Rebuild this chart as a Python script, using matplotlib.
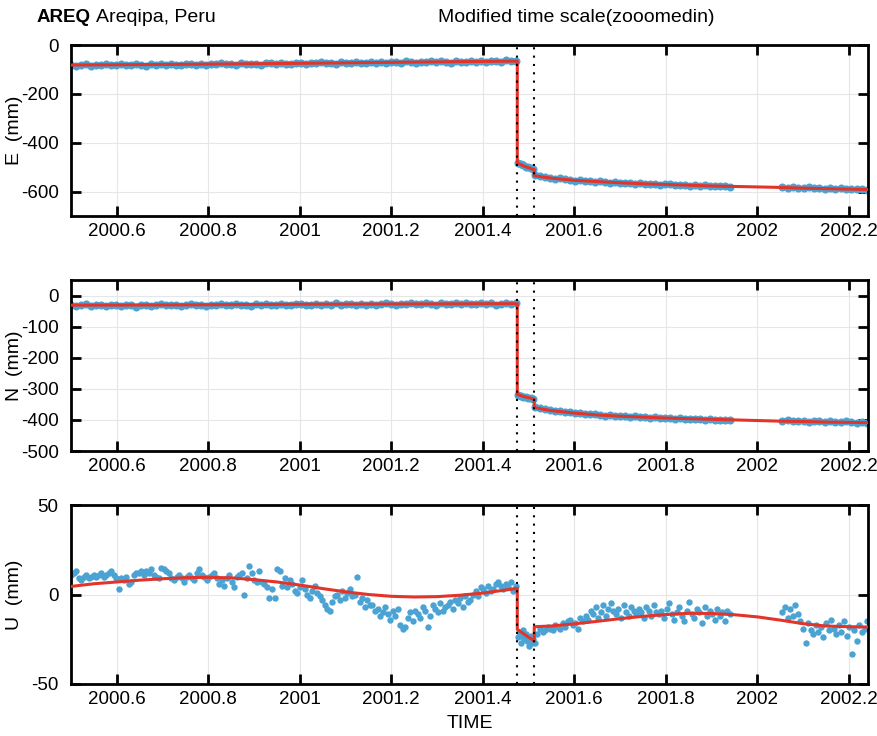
import numpy as np
import matplotlib
matplotlib.use("Agg")
import matplotlib.pyplot as plt

plt.rcParams['font.family'] = ['Liberation Sans', 'DejaVu Sans']
plt.rcParams['axes.unicode_minus'] = False

# ---------------- time segments (start, end) in decimal years ----------------
seg_pre = (2000.500, 2001.472)
seg_mid = (2001.477, 2001.510)
seg_post = (2001.514, 2001.940)
seg_late = (2002.055, 2002.240)

events = [2001.4755, 2001.5125]

# ---------------- U (mm) observations ----------------
U_pre = [11, 12, 13, 9, 8, 10, 11, 9, 10, 11,
         10, 11, 12, 10, 11, 12, 13, 11, 9, 3,
         9, 8, 10, 6, 7, 11, 12, 12, 13, 11,
         13, 12, 14, 11, 10, 9, 15, 14, 13, 12,
         9, 8, 10, 11, 9, 7, 10, 11, 9, 8,
         12, 14, 11, 10, 8, 10, 11, 12, 9, 6,
         8, 5, 9, 11, 7, 4, 10, 11, 12, 0,
         9, 16, 12, 8, 7, 13, 7, 6, 4, -2,
         3, -2, 14, 13, 5, 9, 4, 8, 6, 2,
         1, 4, 8, 3, 0, -2, 2, 5, 1, -1,
         -3, -6, -8, -9, -4, -1, 0, -3, 2, -2,
         1, 3, -1, 0, 10, -4, -2, -7, -3, -6,
         -6, -9, -8, -12, -10, -7, -11, -14, -9, -12,
         -8, -17, -19, -18, -13, -10, -15, -9, -11, -13,
         -7, -9, -18, -12, -6, -8, -10, -5, -9, -7,
         -6, -4, -8, -3, -5, -2, -7, -1, -4, -3,
         0, 2, -1, 4, 3, 1, 5, 2, 3, 6,
         7, 5, 3, 6, 4, 7, 2, 5]
U_mid = [-24, -21, -27, -23, -20, -25, -22, -26, -24, -29, -23, -27, -25]
U_post = [-27, -22, -19, -21, -20, -18, -19, -20, -17, -18,
          -19, -16, -18, -15, -14, -17, -16, -19, -13, -15,
          -12, -14, -9, -11, -7, -13, -10, -6, -12, -8,
          -5, -9, -11, -8, -13, -6, -10, -12, -7, -9,
          -11, -8, -10, -13, -7, -9, -12, -6, -10, -11,
          -9, -13, -8, -5, -11, -14, -10, -7, -12, -15,
          -9, -4, -11, -13, -8, -10, -16, -7, -12, -9,
          -11, -14, -8, -12, -10, -15, -9, -11]
U_late = [-10, -7, -13, -8, -12, -6, -11, -15, -19, -27,
          -16, -20, -22, -17, -21, -18, -24, -16, -20, -14,
          -19, -22, -17, -21, -15, -23, -18, -33, -20, -26,
          -17, -21, -19, -15]

# ---------------- E (mm) observations ----------------
E_pre = [-80, -84, -82, -79, -85, -81, -83, -78, -82, -80,
         -79, -83, -81, -77, -80, -84, -78, -82, -79, -81,
         -77, -80, -82, -78, -76, -81, -79, -83, -77, -78,
         -75, -79, -77, -80, -74, -78, -76, -79, -81, -75,
         -74, -77, -73, -76, -79, -72, -75, -78, -73, -74,
         -71, -75, -72, -76, -70, -73, -74, -69, -72, -75,
         -70, -73, -68, -72, -69, -71, -74, -67, -70, -72,
         -68, -71, -66, -70, -67, -69, -72, -65, -68, -70,
         -66, -69, -64, -68, -65, -67, -70, -63, -66, -67]
E_mid = [-484, -489, -493, -498, -501, -505, -509]
E_post = [-533, -538, -541, -543, -547, -546, -550, -551, -555, -553,
          -557, -556, -560, -558, -561, -563, -562, -565, -564, -566,
          -568, -566, -569, -567, -570, -572, -569, -571, -573, -572,
          -574, -576, -573, -577, -575, -578, -576, -579, -577, -580]
E_late = [-581, -585, -582, -586, -584, -583, -587, -585, -588, -586,
          -589, -587, -590, -588, -591, -589, -592]

# ---------------- N (mm) observations ----------------
N_pre = [-30, -34, -31, -28, -33, -32, -29, -35, -31, -30,
         -33, -30, -32, -36, -29, -31, -34, -30, -28, -32,
         -31, -29, -33, -30, -27, -32, -30, -34, -29, -31,
         -28, -32, -30, -27, -31, -29, -33, -28, -30, -26,
         -29, -31, -27, -30, -32, -28, -26, -30, -29, -27,
         -30, -27, -29, -25, -31, -28, -26, -30, -27, -29,
         -26, -29, -27, -24, -28, -30, -26, -28, -25, -27,
         -28, -25, -27, -29, -24, -26, -28, -25, -27, -23,
         -26, -28, -24, -27, -25, -29, -26, -23, -27, -25]
N_mid = [-320, -323, -325, -327, -329, -331, -334]
N_post = [-359, -363, -366, -368, -371, -370, -374, -376, -378, -377,
          -380, -382, -381, -384, -386, -385, -387, -389, -388, -390,
          -389, -392, -391, -393, -392, -394, -395, -393, -396, -395,
          -397, -396, -398, -397, -399, -398, -400, -399, -401, -400]
N_late = [-403, -401, -405, -402, -404, -406, -403, -405, -407, -404,
          -406, -408, -405, -407, -409, -406, -410]

# ---------------- fitted model curves (knots) ----------------
E_model_t = [2000.5, 2000.75, 2001.0, 2001.25, 2001.4755, 2001.4755, 2001.49, 2001.5125,
             2001.5125, 2001.53, 2001.55, 2001.6, 2001.65, 2001.7, 2001.75, 2001.8,
             2001.85, 2001.9, 2001.95, 2002.0, 2002.05, 2002.1, 2002.15, 2002.2, 2002.25]
E_model_v = [-82, -79, -75, -70, -66, -483, -496, -510,
             -535, -540, -545, -554, -559, -564, -568, -571,
             -574, -577, -579, -581, -583, -586, -588, -590, -592]

N_model_t = [2000.5, 2000.75, 2001.0, 2001.25, 2001.4755, 2001.4755, 2001.49, 2001.5125,
             2001.5125, 2001.53, 2001.55, 2001.6, 2001.65, 2001.7, 2001.75, 2001.8,
             2001.85, 2001.9, 2001.95, 2002.0, 2002.05, 2002.1, 2002.15, 2002.2, 2002.25]
N_model_v = [-31, -30, -28, -27, -26, -318, -325, -333,
             -360, -365, -370, -378, -384, -388, -391, -394,
             -396, -398, -400, -402, -404, -405, -407, -408, -409]

U_model_t = [2000.5, 2000.55, 2000.6, 2000.65, 2000.7, 2000.75, 2000.8, 2000.85, 2000.9,
             2000.95, 2001.0, 2001.05, 2001.1, 2001.15, 2001.2, 2001.25, 2001.3, 2001.35,
             2001.4, 2001.45, 2001.4755, 2001.4755, 2001.5125, 2001.5125, 2001.55, 2001.6,
             2001.65, 2001.7, 2001.75, 2001.8, 2001.85, 2001.9, 2001.95, 2002.0, 2002.05,
             2002.1, 2002.15, 2002.2, 2002.25]
U_model_v = [4.5, 6, 7, 8, 8.8, 9.4, 9.6, 9.3, 8.3,
             7, 5.3, 3.3, 1.5, 0, -1, -1.4, -1.2, -0.4,
             0.8, 2.5, 3.5, -19.5, -26, -18, -17.6, -16.4,
             -15, -13.5, -12.2, -11.2, -10.5, -10.6, -11.3, -12.5, -14.3,
             -16.3, -17.6, -18, -18.2]

xticks = [2000.6, 2000.8, 2001.0, 2001.2, 2001.4, 2001.6, 2001.8, 2002.0, 2002.2]
xticklabels = ['2000.6', '2000.8', '2001', '2001.2', '2001.4', '2001.6', '2001.8', '2002', '2002.2']

BLUE = '#4ba3d3'
RED = '#e3342a'


def seg_times(seg, n):
    return np.linspace(seg[0], seg[1], n)


def concat(series):
    segs = [seg_pre, seg_mid, seg_post, seg_late]
    t = np.concatenate([seg_times(s, len(v)) for s, v in zip(segs, series)])
    v = np.concatenate([np.asarray(v, float) for v in series])
    return t, v


fig = plt.figure(figsize=(8.77, 7.36), dpi=100)
L, R = 71 / 877, 868 / 877
boxes = [(45, 216), (280, 451), (505, 684)]
panels = [
    ('E  (mm)', [E_pre, E_mid, E_post, E_late], E_model_t, E_model_v, (-700, 0), [-600, -400, -200, 0], 5.8),
    ('N  (mm)', [N_pre, N_mid, N_post, N_late], N_model_t, N_model_v, (-500, 50), [-500, -400, -300, -200, -100, 0], 5.8),
    ('U  (mm)', [U_pre, U_mid, U_post, U_late], U_model_t, U_model_v, (-50, 50), [-50, 0, 50], 4.6),
]

for (top, bot), (lab, series, mt, mv, ylim, yt, ms) in zip(boxes, panels):
    ax = fig.add_axes([L, 1 - bot / 736, R - L, (bot - top) / 736])
    t, v = concat(series)
    ax.plot(t, v, 'o', color=BLUE, ms=ms, mec='none', zorder=2)
    ax.plot(mt, mv, '-', color=RED, lw=2.2, zorder=3)
    for ev in events:
        ax.axvline(ev, color='black', lw=1.5, ls=(0, (1, 3)), zorder=4)
    ax.set_xlim(2000.5, 2002.242)
    ax.set_ylim(*ylim)
    ax.set_xticks(xticks)
    ax.set_xticklabels(xticklabels)
    ax.set_yticks(yt)
    ax.grid(True, color='#e6e6e6', lw=0.8, zorder=0)
    ax.set_axisbelow(True)
    ax.tick_params(direction='in', length=7.5, width=2, top=True, right=True,
                   labelsize=13.5, colors='black')
    ax.tick_params(axis='y', pad=9)
    ax.tick_params(axis='x', pad=5)
    for sp in ax.spines.values():
        sp.set_linewidth(2)
    ax.set_ylabel(lab, fontsize=14)
    ax.yaxis.set_label_coords((23 - 71) / 797, 0.5)
    if lab.startswith('U'):
        ax.set_xlabel('TIME', fontsize=14, labelpad=5)

fig.text(37 / 877, 1 - 22 / 736, 'AREQ', fontsize=13.5, fontweight='bold', va='baseline')
fig.text(96 / 877, 1 - 22 / 736, 'Areqipa, Peru', fontsize=14, va='baseline')
fig.text(576 / 877, 1 - 22 / 736, 'Modified time scale(zooomedin)', fontsize=14,
         va='baseline', ha='center')

fig.savefig('out.png', dpi=100)
